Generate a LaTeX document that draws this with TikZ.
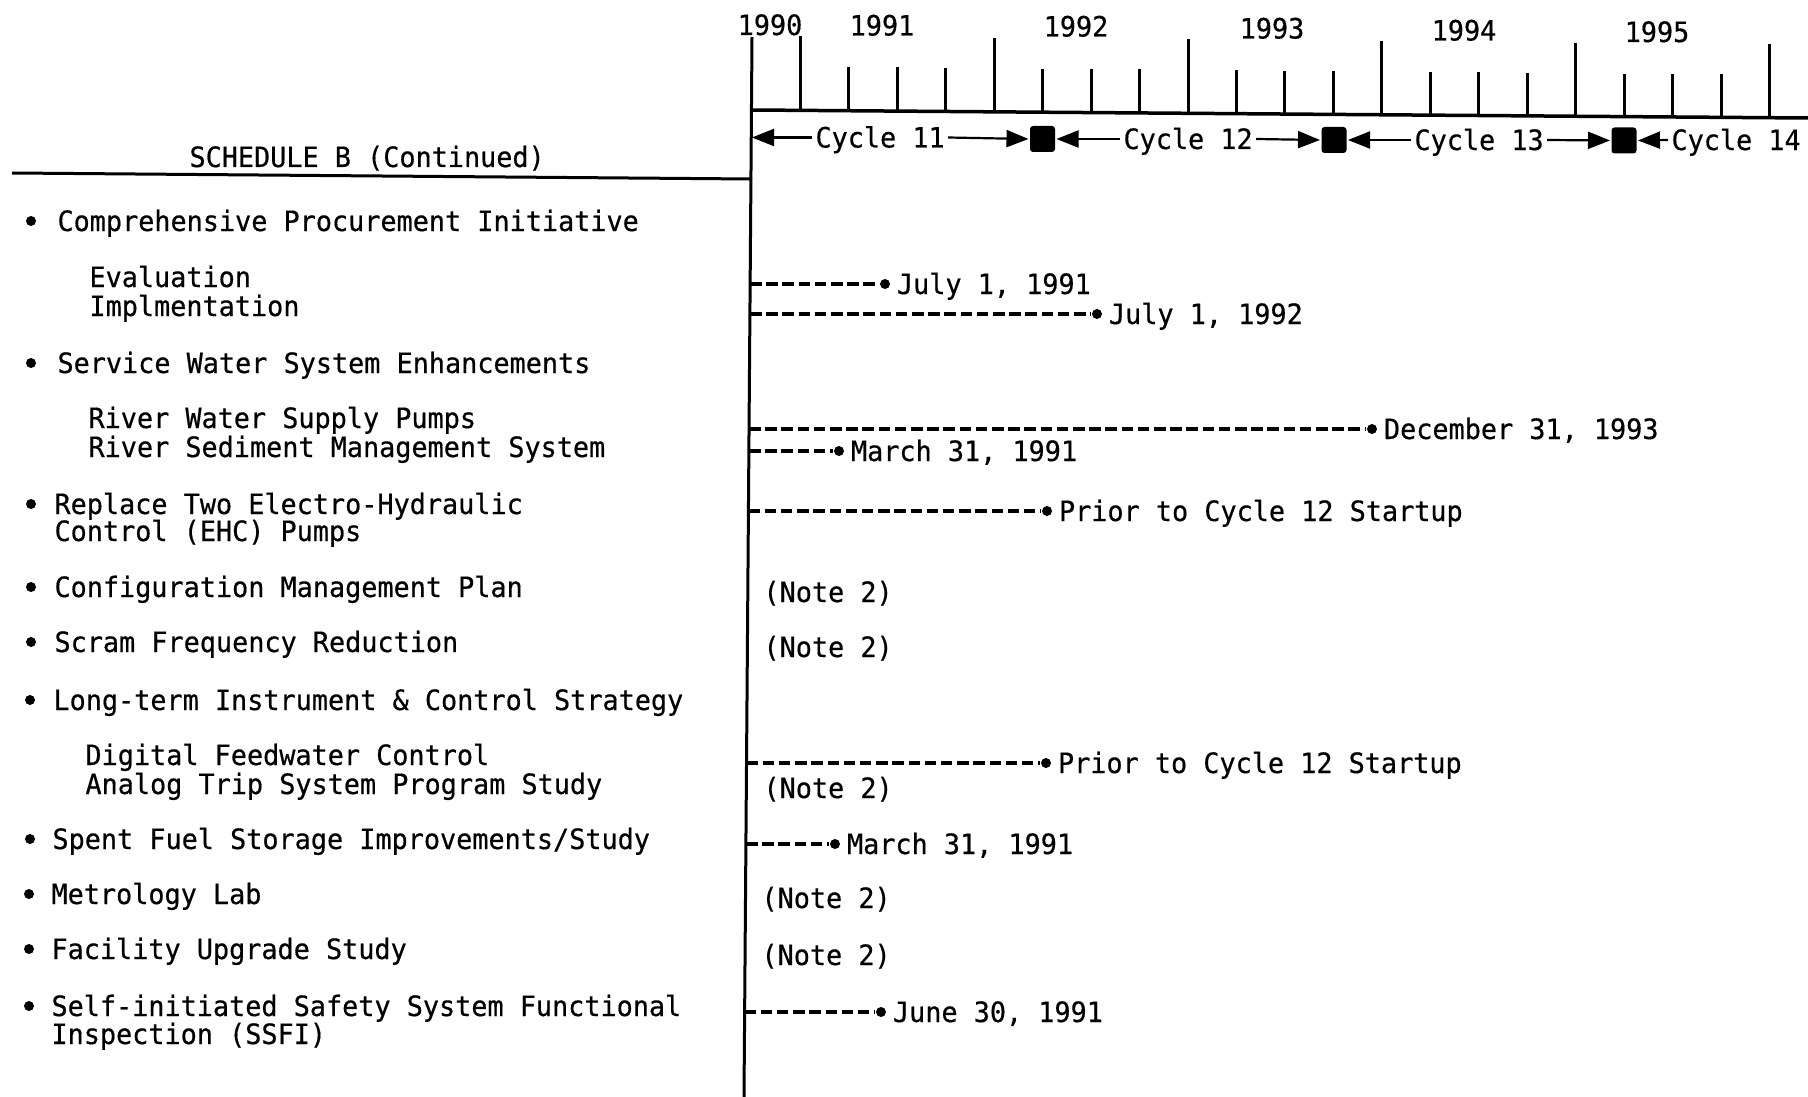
\documentclass[tikz,border=0pt]{standalone}
\usepackage{fontspec}
\setmonofont[FakeStretch=0.958,FakeBold=0.5]{DejaVu Sans Mono}
\usetikzlibrary{arrows.meta}
\tikzset{
  txt/.style={font=\ttfamily\fontsize{28}{29}\selectfont, inner sep=0pt,
    text height=20pt, text depth=0pt},
  entry/.style={txt, anchor=west},
  blob/.style={circle, fill, inner sep=0pt, minimum size=10pt},
  datedash/.style={line width=3.2pt, dash pattern=on 11.5pt off 4.7pt},
  cyc/.style={line width=2.2pt, -{Triangle[length=22pt,width=17pt]}},
  outage/.style={fill, rounded corners=3pt, minimum width=25pt,
    minimum height=26pt, inner sep=0pt}
}

\begin{document}
\begin{tikzpicture}[x=1pt,y=-1pt,line width=3pt]
  \useasboundingbox (0,0) rectangle (1808,1097);

  % Frame
  \coordinate (top) at (752,37);
  \coordinate (bot) at (744,1097);
  \draw (top) -- (bot);
  \coordinate (h0) at (12,173);
  \coordinate (h1) at (752,179);
  \draw (h0) -- (h1);
  \node[entry] (head) at (188,157) {SCHEDULE B (Continued)};

  % Time axis, one tick per quarter
  \coordinate (ax0) at (752,110);
  \coordinate (ax1) at (1808,118);
  \draw[line width=3.5pt] (ax0) -- (ax1);
  \foreach \k in {1,...,21}{
    \pgfmathsetmacro\tx{752+48.45*\k}
    \pgfmathsetmacro\ttop{(mod(\k,4)==1 ? 36 : 66.6)+0.0085*(\tx-800)}
    \pgfmathsetmacro\tbot{110+0.0076*(\tx-752)}
    \draw (\tx,\ttop) -- (\tx,\tbot);
  }
  \node[txt] (y90) at (770,25) {1990};
  \node[txt] (y91) at (882,25.5) {1991};
  \node[txt] (y92) at (1076,26.5) {1992};
  \node[txt] (y93) at (1272,28.5) {1993};
  \node[txt] (y94) at (1464,30.5) {1994};
  \node[txt] (y95) at (1657,32) {1995};

  % Fuel cycles and outages
  \coordinate (cy0) at (752,137.5);
  \node[entry,inner xsep=2pt] (c11) at (812,137.5) {Cycle 11};
  \node[entry,inner xsep=2pt] (c12) at (1120,139) {Cycle 12};
  \node[entry,inner xsep=2pt] (c13) at (1411,140) {Cycle 13};
  \node[entry,inner xsep=2pt] (c14) at (1668,140) {Cycle 14};
  \node[outage] (s1) at (1042.5,139) {};
  \node[outage] (s2) at (1334,140) {};
  \node[outage] (s3) at (1624,140.5) {};
  \draw[cyc] (c11.west) -- (cy0);
  \draw[cyc] (c11.east) -- (s1.west);
  \draw[cyc] (c12.west) -- (s1.east);
  \draw[cyc] (c12.east) -- (s2.west);
  \draw[cyc] (c13.west) -- (s2.east);
  \draw[cyc] (c13.east) -- (s3.west);
  \draw[cyc] (c14.west) -- (s3.east);

  % Items
  \node[blob] (b1) at (31,221) {};
  \node[entry] (i1) at (56,221) {Comprehensive Procurement Initiative};
  \node[entry] (i1a) at (88,277) {Evaluation};
  \node[entry] (i1b) at (88,306) {Implmentation};
  \node[blob] (b2) at (31,363) {};
  \node[entry] (i2) at (56,363) {Service Water System Enhancements};
  \node[entry] (i2a) at (87,418) {River Water Supply Pumps};
  \node[entry] (i2b) at (87,447) {River Sediment Management System};
  \node[blob] (b3) at (31,504) {};
  \node[entry] (i3) at (53,504) {Replace Two Electro-Hydraulic};
  \node[entry] (i3b) at (53,531) {Control (EHC) Pumps};
  \node[blob] (b4) at (31,587) {};
  \node[entry] (i4) at (53,587) {Configuration Management Plan};
  \node[blob] (b5) at (31,642) {};
  \node[entry] (i5) at (53,642) {Scram Frequency Reduction};
  \node[blob] (b6) at (30,700) {};
  \node[entry] (i6) at (52,700) {Long-term Instrument \& Control Strategy};
  \node[entry] (i6a) at (84,755) {Digital Feedwater Control};
  \node[entry] (i6b) at (84,784) {Analog Trip System Program Study};
  \node[blob] (b7) at (30,839) {};
  \node[entry] (i7) at (51,839) {Spent Fuel Storage Improvements/Study};
  \node[blob] (b8) at (29,894) {};
  \node[entry] (i8) at (50,894) {Metrology Lab};
  \node[blob] (b9) at (29,949) {};
  \node[entry] (i9) at (50,949) {Facility Upgrade Study};
  \node[blob] (b10) at (29,1006) {};
  \node[entry] (i10) at (50,1006) {Self-initiated Safety System Functional};
  \node[entry] (i10b) at (50,1034) {Inspection (SSFI)};

  % Completion dates
  \coordinate (l1) at (750,284);
  \coordinate (l2) at (750,314);
  \coordinate (l3) at (749,429);
  \coordinate (l4) at (749,451);
  \coordinate (l5) at (748.5,511);
  \coordinate (l6) at (746.5,763);
  \coordinate (l7) at (746,844);
  \coordinate (l8) at (744.5,1012);
  \node[blob] (d1) at (885,284) {};
  \node[blob] (d2) at (1097,314) {};
  \node[blob] (d3) at (1372,429) {};
  \node[blob] (d4) at (839,451) {};
  \node[blob] (d5) at (1047,511) {};
  \node[blob] (d6) at (1046,763) {};
  \node[blob] (d7) at (835,844) {};
  \node[blob] (d8) at (881,1012) {};
  \foreach \n in {1,...,8}
    \draw[datedash] (l\n) -- (d\n);
  \node[entry] (t1) at ([xshift=4pt]d1.east) {July 1, 1991};
  \node[entry] (t2) at ([xshift=4pt]d2.east) {July 1, 1992};
  \node[entry] (t3) at ([xshift=4pt]d3.east) {December 31, 1993};
  \node[entry] (t4) at ([xshift=4pt]d4.east) {March 31, 1991};
  \node[entry] (t5) at ([xshift=4pt]d5.east) {Prior to Cycle 12 Startup};
  \node[entry] (t6) at ([xshift=4pt]d6.east) {Prior to Cycle 12 Startup};
  \node[entry] (t7) at ([xshift=4pt]d7.east) {March 31, 1991};
  \node[entry] (t8) at ([xshift=4pt]d8.east) {June 30, 1991};

  % Deferred items
  \node[entry] (n1) at (762,592) {(Note 2)};
  \node[entry] (n2) at (762,647) {(Note 2)};
  \node[entry] (n3) at (762,788) {(Note 2)};
  \node[entry] (n4) at (760,898) {(Note 2)};
  \node[entry] (n5) at (760,955) {(Note 2)};
\end{tikzpicture}
\end{document}
